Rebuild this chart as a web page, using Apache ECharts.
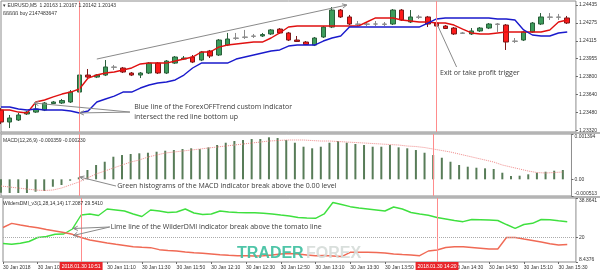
<!DOCTYPE html>
<html><head><meta charset="utf-8">
<script src="https://cdn.jsdelivr.net/npm/echarts@6/dist/echarts.min.js"></script>
<style>html,body{margin:0;padding:0;background:#fff}#c{width:600px;height:273px}</style>
</head><body><div id="c"></div>
<script>
// ---------- DATA ----------
const categories = [
 '10:10','10:15','10:20','10:25','10:30','10:35','10:40','10:45','10:50','10:55',
 '11:00','11:05','11:10','11:15','11:20','11:25','11:30','11:35','11:40','11:45','11:50','11:55',
 '12:00','12:05','12:10','12:15','12:20','12:25','12:30','12:35','12:40','12:45','12:50','12:55',
 '13:00','13:05','13:10','13:15','13:20','13:25','13:30','13:35','13:40','13:45','13:50','13:55',
 '14:00','14:05','14:10','14:15','14:20','14:25','14:30','14:35','14:40','14:45','14:50','14:55',
 '15:00','15:05','15:10','15:15','15:20','15:25','15:30','15:35','15:40'];
// [open, close, low, high]
const candles = [
 [1.23501,1.23394,1.23376,1.23519],[1.23394,1.23430,1.23340,1.23457],[1.23412,1.23457,1.23403,1.23475],
 [1.23466,1.23483,1.23457,1.23492],[1.23483,1.23510,1.23475,1.23564],[1.23501,1.23564,1.23492,1.23573],
 [1.23559,1.23573,1.23555,1.23582],[1.23564,1.23586,1.23555,1.23600],[1.23573,1.23662,1.23564,1.23680],
 [1.23662,1.23814,1.23653,1.23859],[1.23814,1.23796,1.23787,1.23868],[1.23796,1.23814,1.23787,1.23823],
 [1.23814,1.23886,1.23805,1.23948],[1.23886,1.23883,1.23859,1.23904],[1.23877,1.23841,1.23832,1.23886],
 [1.23832,1.23814,1.23805,1.23841],[1.23814,1.23832,1.23787,1.23841],[1.23832,1.23921,1.23823,1.23930],
 [1.23921,1.23832,1.23823,1.23930],[1.23832,1.23939,1.23823,1.23948],[1.23921,1.23975,1.23913,1.23984],
 [1.23957,1.23966,1.23948,1.23984],[1.23975,1.23930,1.23921,1.23993],[1.23948,1.24020,1.23939,1.24029],
 [1.24029,1.23984,1.23966,1.24038],[1.23993,1.24127,1.23984,1.24136],[1.24082,1.24136,1.24073,1.24190],
 [1.24145,1.24142,1.24127,1.24190],[1.24151,1.24154,1.24136,1.24217],[1.24163,1.24160,1.24145,1.24181],
 [1.24163,1.24176,1.24154,1.24190],[1.24181,1.24217,1.24172,1.24225],[1.24225,1.24190,1.24181,1.24234],
 [1.24190,1.24127,1.24118,1.24199],[1.24127,1.24114,1.24109,1.24163],[1.24109,1.24087,1.24082,1.24118],
 [1.24082,1.24145,1.24073,1.24154],[1.24154,1.24243,1.24145,1.24252],[1.24243,1.24395,1.24234,1.24422],
 [1.24395,1.24333,1.24324,1.24404],[1.24333,1.24270,1.24261,1.24351],[1.24270,1.24267,1.24252,1.24297],
 [1.24268,1.24270,1.24252,1.24288],[1.24270,1.24270,1.24252,1.24297],[1.24270,1.24267,1.24252,1.24288],
 [1.24270,1.24395,1.24261,1.24404],[1.24395,1.24306,1.24297,1.24404],[1.24288,1.24333,1.24279,1.24395],
 [1.24333,1.24330,1.24315,1.24351],[1.24333,1.24270,1.24243,1.24342],[1.24279,1.24252,1.24243,1.24288],
 [1.24252,1.24230,1.24225,1.24261],[1.24234,1.24181,1.24172,1.24243],[1.24190,1.24187,1.24181,1.24199],
 [1.24181,1.24208,1.24172,1.24234],[1.24208,1.24234,1.24199,1.24243],[1.24234,1.24270,1.24225,1.24279],
 [1.24270,1.24267,1.24199,1.24279],[1.24261,1.24109,1.24038,1.24270],[1.24118,1.24115,1.24100,1.24145],
 [1.24127,1.24199,1.24118,1.24208],[1.24199,1.24279,1.24190,1.24288],[1.24270,1.24333,1.24261,1.24368],
 [1.24333,1.24330,1.24306,1.24368],[1.24330,1.24333,1.24306,1.24360],[1.24324,1.24279,1.24270,1.24342]];
const trendRed = [
 1.23501,1.23501,1.23483,1.23475,1.23573,1.23591,1.23618,1.23644,1.23662,1.23689,
 1.23787,1.23814,1.23832,1.23841,1.23859,1.23877,1.23913,1.23921,1.23921,1.23921,
 1.23939,1.23957,1.23975,1.24020,1.24020,1.24064,1.24082,1.24091,1.24100,1.24109,
 1.24109,1.24145,1.24190,1.24243,1.24252,1.24252,1.24252,1.24252,1.24252,1.24252,
 1.24252,1.24252,1.24288,1.24324,1.24324,1.24324,1.24306,1.24297,1.24288,1.24288,
 1.24279,1.24279,1.24261,1.24225,1.24190,1.24181,1.24181,1.24190,1.24199,1.24199,
 1.24199,1.24199,1.24199,1.24217,1.24288,1.24306];
const trendBlue = [
 1.23528,1.23528,1.23510,1.23501,1.23510,1.23501,1.23501,1.23501,1.23492,1.23475,
 1.23492,1.23573,1.23600,1.23626,1.23662,1.23662,1.23698,1.23725,1.23743,1.23752,
 1.23770,1.23814,1.23877,1.23921,1.23921,1.23921,1.23921,1.23957,1.23975,1.23993,
 1.24011,1.24029,1.24038,1.24073,1.24082,1.24082,1.24082,1.24118,1.24145,1.24163,
 1.24243,1.24243,1.24243,1.24243,1.24243,1.24243,1.24243,1.24243,1.24243,1.24279,
 1.24315,1.24324,1.24324,1.24324,1.24324,1.24324,1.24324,1.24315,1.24315,1.24306,
 1.24217,1.24172,1.24163,1.24163,1.24190,1.24199];
const macdHist = [
 -0.000412,-0.000421,-0.000421,-0.000421,-0.000381,-0.000360,-0.000228,-0.000175,-0.000043,0.000060,
 0.000286,0.000440,0.000541,0.000695,0.000747,0.000778,0.000800,0.000818,0.000849,0.000880,
 0.000901,0.000932,0.000954,0.000930,0.000984,0.001055,0.001126,0.001178,0.001209,0.001240,
 0.001240,0.001292,0.001270,0.001209,0.001126,0.001003,0.000954,0.001003,0.001126,0.001178,
 0.001126,0.001086,0.001055,0.001003,0.001003,0.001055,0.000984,0.000954,0.000901,0.000818,
 0.000747,0.000664,0.000541,0.000440,0.000388,0.000357,0.000338,0.000317,0.000203,0.000102,
 0.000111,0.000154,0.000203,0.000234,0.000265,0.000286];
const macdSignal = [
 -0.000206,-0.000237,-0.000268,-0.000298,-0.000329,-0.000345,-0.000329,-0.000268,-0.000175,-0.000083,
 0.000040,0.000163,0.000255,0.000348,0.000440,0.000532,0.000594,0.000686,0.000747,0.000809,
 0.000840,0.000870,0.000901,0.000932,0.000963,0.000994,0.001024,0.001055,0.001086,0.001117,
 0.001147,0.001178,0.001193,0.001209,0.001209,0.001209,0.001193,0.001178,0.001178,0.001163,
 0.001147,0.001132,0.001117,0.001101,0.001086,0.001070,0.001055,0.001024,0.001009,0.000978,
 0.000932,0.000886,0.000840,0.000778,0.000717,0.000655,0.000594,0.000532,0.000440,0.000378,
 0.000317,0.000255,0.000209,0.000194,0.000209,0.000225];
const dmiLime = [
 17.23,16.85,17.33,18.18,20.09,20.56,21.61,21.75,24.13,30.78,
 31.26,30.54,33.63,33.16,32.68,31.26,30.07,33.16,32.68,31.97,
 32.21,33.63,31.73,31.02,31.26,32.68,32.21,31.97,31.87,31.83,
 31.59,31.26,30.78,30.31,29.59,29.36,29.21,31.26,36.72,35.77,
 34.73,34.11,33.63,33.16,32.68,34.59,33.63,31.97,31.26,30.64,
 29.59,28.88,28.17,27.60,28.64,28.55,28.40,28.17,26.26,24.46,
 26.26,26.83,28.64,28.55,28.02,27.60];
const dmiTomato = [
 24.84,26.83,26.03,25.31,24.74,23.89,23.18,22.46,21.61,20.09,
 18.90,18.18,17.47,16.85,16.28,15.71,15.43,15.24,14.29,13.91,
 13.67,13.19,12.86,12.58,12.24,11.91,11.62,11.43,11.38,11.29,
 11.38,11.77,12.24,12.48,12.24,11.77,11.43,11.53,11.29,11.05,
 13.05,13.05,13.05,12.95,12.72,12.24,12.00,11.77,11.43,13.67,
 14.14,15.33,15.71,15.66,15.33,15.00,14.62,14.62,20.09,20.09,
 19.37,18.66,17.94,17.14,16.52,16.76];
const priceTicks = [1.2332,1.2348,1.2364,1.2380,1.2396,1.2412,1.2428,1.2444];
const priceTickLabels = ['1.23320','1.23480','1.23640','1.23800','1.23955','1.24115','1.24275','1.24435'];
const macdTicks = [-0.000513,0,0.001394];
const macdTickLabels = ['-0.000513','0.00','0.001394'];
const dmiTicks = [8.4376,20,38.8641];
const dmiTickLabels = ['8.4376','20','38.8641'];
const dmiLevel = 20;
const markerIndex = [9,50];
const markerLabels = ['2018.01.30 10:51','2018.01.30 14:20'];
const xLabelHidden = [8,48];

// ---------- CHART ----------
const SMALL = 'Liberation Sans, Arial, sans-serif';
const NOTE = 'Open Sans, sans-serif';
const chart = echarts.init(document.getElementById('c'));

function tickFmt(ticks, labels){
  return function(v){
    let k = 0, best = Infinity;
    ticks.forEach((t,i)=>{const d=Math.abs(t-v); if(d<best){best=d;k=i;}});
    return labels[k];
  };
}
const candleData = candles.map(c=>{
  const d = {value:c};
  if (Math.abs(c[0]-c[1]) < 0.00005) {
    d.itemStyle = {color:'#444', color0:'#444', borderColor:'#8a8a8a', borderColor0:'#8a8a8a'};
  }
  return d;
});
function vlines(withLabel){
  return {
    symbol:['none','none'], silent:true, animation:false,
    lineStyle:{color:'#ff8c8c', width:1, type:'solid'},
    data: markerIndex.map((idx,k)=>({
      xAxis: categories[idx],
      label: withLabel ? {show:true, position:'start', distance:0, formatter: markerLabels[k],
        color:'#fff', backgroundColor:'#e8262a', padding:[2,2,1,2], fontSize:5, fontFamily:SMALL} : {show:false}
    }))
  };
}
const gridBase = {left:1, right:24, show:true, borderColor:'#8c8c8c', borderWidth:1, backgroundColor:'#fff'};
const grids = [
  Object.assign({top:1, height:131}, gridBase),
  Object.assign({top:134, height:62}, gridBase),
  Object.assign({top:198, height:64}, gridBase)
];
const xAxes = [0,1,2].map(g=>({
  type:'category', gridIndex:g, data:categories, boundaryGap:false,
  axisLine:{show:false}, splitLine:{show:false},
  axisTick: g===2 ? {show:true, length:2, inside:false, lineStyle:{color:'#666'},
      interval:(i)=> i%4===0 && xLabelHidden.indexOf(i)<0} : {show:false},
  axisLabel: g===2 ? {show:true, fontSize:5, fontFamily:SMALL, color:'#333', align:'left', margin:3,
      interval:(i)=> i%4===0 && xLabelHidden.indexOf(i)<0,
      formatter:(v,i)=> i===0 ? '30 Jan 2018' : '30 Jan ' + v} : {show:false}
}));
function yAx(g, min, max, ticks, labels){
  return {
    type:'value', gridIndex:g, position:'right', min:min, max:max, scale:true,
    splitLine:{show:false}, axisLine:{show:false},
    axisTick:{show:true, length:2, customValues:ticks, lineStyle:{color:'#666'}},
    axisLabel:{show:true, customValues:ticks, formatter:tickFmt(ticks,labels), fontSize:5,
      fontFamily:SMALL, color:'#333', margin:3, verticalAlignMinLabel:'bottom', verticalAlignMaxLabel:'top'}
  };
}
const option = {
  animation:false,
  backgroundColor:'#fff',
  grid: grids,
  xAxis: xAxes,
  yAxis: [
    Object.assign(yAx(0, 1.233048, 1.2447575, priceTicks, priceTickLabels),
      {axisLabel:{show:true, customValues:priceTicks, formatter:tickFmt(priceTicks,priceTickLabels), fontSize:5, fontFamily:SMALL, color:'#333', margin:3}}),
    yAx(1, -0.000513, 0.001394, macdTicks, macdTickLabels),
    yAx(2, 8.4376, 38.8641, dmiTicks, dmiTickLabels)
  ],
  series: [
    {type:'candlestick', xAxisIndex:0, yAxisIndex:0, data:candleData, barWidth:5, z:2,
     itemStyle:{color:'#3c9c5c', color0:'#ff1a1a', borderColor:'#2b5f3b', borderColor0:'#7a1a1a', borderWidth:1},
     markLine: vlines(false)},
    {type:'line', xAxisIndex:0, yAxisIndex:0, data:trendRed, showSymbol:false, z:3,
     lineStyle:{color:'#e01010', width:1.4}},
    {type:'line', xAxisIndex:0, yAxisIndex:0, data:trendBlue, showSymbol:false, z:3,
     lineStyle:{color:'#1a1acc', width:1.4}},
    {type:'bar', xAxisIndex:1, yAxisIndex:1, data:macdHist, barWidth:2, itemStyle:{color:'#587c58'},
     markLine: vlines(false)},
    {type:'line', xAxisIndex:1, yAxisIndex:1, data:macdSignal, showSymbol:false,
     lineStyle:{color:'#f08a8a', width:1, type:'dotted'}},
    {type:'line', xAxisIndex:2, yAxisIndex:2, data:dmiLime, showSymbol:false,
     lineStyle:{color:'#3fe03f', width:1.4},
     markLine:{symbol:['none','none'], silent:true, label:{show:false},
       lineStyle:{color:'#aaa', width:1, type:'dotted'}, data:[{yAxis:dmiLevel}]}},
    {type:'line', xAxisIndex:2, yAxisIndex:2, data:dmiTomato, showSymbol:false,
     lineStyle:{color:'#f06a55', width:1.4},
     markLine: vlines(true)}
  ]
};
chart.setOption(option);

// ---------- ANNOTATIONS (anchored in data coordinates) ----------
function px(g, i, v){
  const a = chart.convertToPixel({gridIndex:g}, [0, v]);
  const b = chart.convertToPixel({gridIndex:g}, [1, v]);
  return [a[0] + i*(b[0]-a[0]), a[1]];
}
const notes = [
  {g:0, at:[15.3,1.23483], text:'Blue line of the ForexOFFTrend custom indicator\nintersect the red line bottom up'},
  {g:0, at:[50.4,1.23832], text:'Exit or take profit trigger'},
  {g:1, at:[13.45,-0.000206], text:'Green histograms of the MACD indicator break above the 0.00 level'},
  {g:2, at:[12.4,25.08], text:'Lime line of the WilderDMI indicator break above the tomato line'}
];
const pointers = [
  {g:0, from:[11.0,1.23957], to:[39.7,1.24440], head:true},
  {g:0, from:[14.8,1.23483], to:[3.8,1.23564], head:true},
  {g:0, from:[14.8,1.23483], to:[9.0,1.23475], head:true},
  {g:0, from:[52.3,1.23886], to:[50.05,1.24270], head:false},
  {g:1, from:[13.3,-0.000206], to:[9.1,0.000071], head:true},
  {g:2, from:[12.3,25.08], to:[8.1,24.36], head:true},
  {g:2, from:[12.3,25.08], to:[8.1,21.04], head:true}
];
const els = [];
// panel separators
[[132,134],[196,198]].forEach(s=>els.push({type:'rect', shape:{x:0,y:s[0],width:600,height:s[1]-s[0]}, style:{fill:'#b4b4b4'}, z:0, silent:true}));
// panel titles
els.push({type:'text', x:3, y:6, style:{text:'\u25BE EURUSD,M5  1.20163 1.20167 1.20142 1.20143', fontSize:5, fontFamily:SMALL, fill:'#333', verticalAlign:'middle'}, z:50});
els.push({type:'text', x:3, y:13.5, style:{text:'\u00DF\u00DF\u00DF\u00DF\u00DF buy 2147483647', fontSize:5, fontFamily:SMALL, fill:'#333', verticalAlign:'middle'}, z:50});
els.push({type:'text', x:3, y:140.5, style:{text:'MACD(12,26,9) -0.000359 -0.000230', fontSize:5, fontFamily:SMALL, fill:'#333', verticalAlign:'middle'}, z:50});
els.push({type:'text', x:3, y:203.5, style:{text:'WildersDMI_v3(1,28,14,14) 17.2087 29.5410', fontSize:5, fontFamily:SMALL, fill:'#333', verticalAlign:'middle'}, z:50});
// watermark
els.push({type:'text', x:237, y:262, style:{text:'TRADER', fontSize:16, fontWeight:'bold', fontFamily:'Liberation Sans, Arial', fill:'#3cbf9f', verticalAlign:'bottom', opacity:0.9}, z:40});
els.push({type:'text', x:306, y:262, style:{text:'FOREX', fontSize:16, fontWeight:'bold', fontFamily:'Liberation Sans, Arial', fill:'#d5dcd8', verticalAlign:'bottom', opacity:0.9}, z:40});
notes.forEach(n=>{
  const p = px(n.g, n.at[0], n.at[1]);
  els.push({type:'text', x:p[0], y:p[1], style:{text:n.text, fontSize:7, lineHeight:10, fontFamily:NOTE, fill:'#3a3a3a', verticalAlign:'middle', align:'left'}, z:60});
});
pointers.forEach(a=>{
  const p1 = px(a.g, a.from[0], a.from[1]);
  const p2 = px(a.g, a.to[0], a.to[1]);
  els.push({type:'line', shape:{x1:p1[0],y1:p1[1],x2:p2[0],y2:p2[1]}, style:{stroke:'#8a8a8a', lineWidth:1}, z:60});
  if (a.head){
    const ang = Math.atan2(p2[1]-p1[1], p2[0]-p1[0]);
    const L = 5, w = 0.45;
    const h1 = [p2[0]-L*Math.cos(ang-w), p2[1]-L*Math.sin(ang-w)];
    const h2 = [p2[0]-L*Math.cos(ang+w), p2[1]-L*Math.sin(ang+w)];
    els.push({type:'polyline', shape:{points:[h1,p2,h2]}, style:{stroke:'#8a8a8a', lineWidth:1, fill:null}, z:60});
  }
});
chart.setOption({graphic:els});
</script></body></html>
